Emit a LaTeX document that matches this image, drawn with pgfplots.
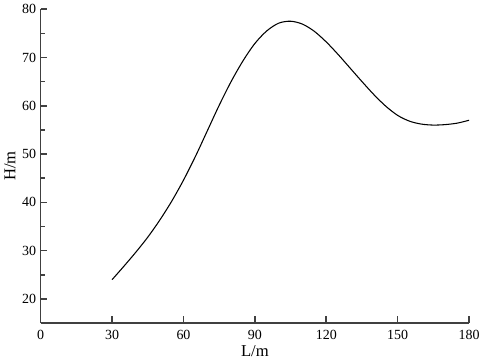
\documentclass[border=0pt]{standalone}
\usepackage{fontspec}
\setmainfont{Liberation Serif}
\usepackage{pgfplots}
\pgfplotsset{compat=1.18}
\begin{document}
\begin{tikzpicture}
\begin{axis}[
  scale only axis,
  width=322pt, height=236pt,
  xmin=0, xmax=180, ymin=15, ymax=80,
  axis x line*=bottom, axis y line*=left,
  axis line style={-, draw=black!75, line width=1.2pt},
  xtick={0,30,...,180},
  ytick={20,30,...,80},
  minor ytick={25,35,...,75},
  tick align=inside,
  tick pos=left,
  major tick style={black!75, line width=1.2pt},
  minor tick style={black!75, line width=1.2pt},
  major tick length=5pt,
  minor tick length=3pt,
  tick label style={font=\fontsize{10.5}{12}\selectfont},
  xticklabel style={yshift=-2pt},
  /pgf/number format/assume math mode=true,
  xlabel={L/m}, ylabel={H/m},
  label style={font=\fontsize{12.5}{14}\selectfont},
  xlabel style={yshift=3pt},
  ylabel style={yshift=-2pt},
  clip=false,
]
\addplot[black, line width=0.8pt, smooth] coordinates {
(30,24) (35,26.8) (40,29.7) (45,32.8) (50,36.3) (55,40.2) (60,44.6) (65,49.5)
(70,54.8) (75,60.1) (80,65.0) (85,69.3) (90,72.9) (95,75.5) (100,77.1) (105,77.5)
(110,76.9) (115,75.4) (120,73.2) (125,70.6) (130,67.8) (135,65.0) (140,62.3)
(145,59.9) (150,58.0) (155,56.8) (160,56.2) (165,56.0) (170,56.1) (175,56.4) (180,57.0)
};
\end{axis}
\end{tikzpicture}
\end{document}
